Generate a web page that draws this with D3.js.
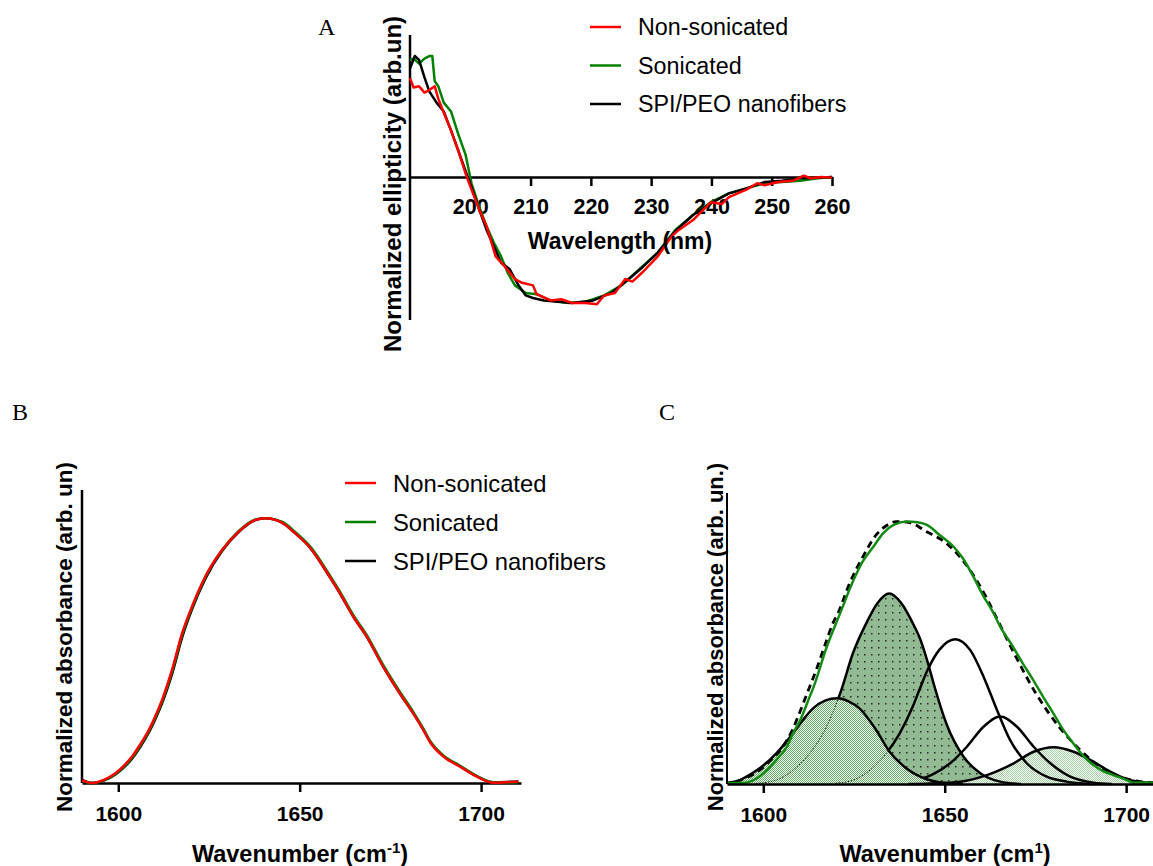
<!DOCTYPE html>
<html><head><meta charset="utf-8">
<script src="https://cdn.jsdelivr.net/npm/d3@7"></script>
<style>
body{margin:0;background:#fff}
</style>
</head><body>
<svg id="chart" width="1153" height="866"></svg>
<script>
// ---------------- DATA ----------------
const seriesNames = ["Non-sonicated", "Sonicated", "SPI/PEO nanofibers"];
const seriesColors = ["#ff0000", "#008000", "#000000"];

// Panel A: CD spectra (wavelength nm, normalized ellipticity)
const cdTicks = [200, 210, 220, 230, 240, 250, 260];
const cdNonSonicated = [[190,0.785],[190.6,0.71],[191.5,0.72],[192.4,0.67],[193.2,0.69],[194.1,0.72],[194.7,0.62],[195.6,0.51],[196.8,0.37],[198,0.21],[199.2,0.03],[200.2,-0.1],[201.5,-0.26],[202.7,-0.39],[204.2,-0.63],[205.7,-0.71],[207.4,-0.81],[208.6,-0.84],[210.4,-0.86],[211,-0.93],[213.3,-0.98],[215.1,-0.97],[216.9,-1.0],[219.2,-1.0],[221,-1.01],[222.2,-0.94],[224,-0.92],[225.7,-0.81],[226.9,-0.83],[228.7,-0.75],[231.1,-0.63],[233.4,-0.47],[234.6,-0.42],[237,-0.34],[239.9,-0.2],[241.7,-0.215],[242.9,-0.16],[245.8,-0.1],[247.6,-0.05],[248.8,-0.065],[251.1,-0.04],[253.5,-0.03],[255.3,0.01],[256.5,-0.01],[258.2,0],[260,-0.005]];
const cdSonicated = [[190,0.93],[190.6,0.94],[191.5,0.9],[192.4,0.94],[193.2,0.96],[193.7,0.96],[194.1,0.76],[194.7,0.72],[195.6,0.59],[196.8,0.52],[198,0.34],[199.2,0.18],[200.2,-0.05],[201.5,-0.24],[202.7,-0.39],[203.9,-0.52],[205.1,-0.63],[206.2,-0.76],[207.4,-0.86],[209.2,-0.92],[211,-0.93],[213.3,-0.98],[216.3,-1.0],[219.2,-0.99],[222.2,-0.94],[225.1,-0.86],[228.1,-0.73],[231.1,-0.6],[234,-0.42],[237,-0.3],[239.9,-0.2],[242.9,-0.13],[245.8,-0.09],[248.8,-0.05],[251.7,-0.04],[254.7,-0.03],[257.6,-0.01],[260,0]];
const cdNanofibers = [[190,0.86],[190.8,0.96],[191.5,0.93],[192.4,0.79],[193.2,0.68],[194.4,0.59],[195.6,0.52],[196.8,0.37],[198,0.21],[199.2,0.05],[200.2,-0.08],[201.5,-0.26],[202.7,-0.42],[203.9,-0.55],[205.1,-0.68],[206.5,-0.73],[208,-0.86],[209.2,-0.94],[210.4,-0.96],[212.2,-0.98],[214.5,-0.99],[216.9,-1.0],[220.4,-0.98],[223.4,-0.92],[226.3,-0.81],[228.7,-0.71],[231.1,-0.6],[234,-0.43],[237,-0.3],[239.9,-0.21],[242.9,-0.13],[245.8,-0.09],[248.8,-0.04],[251.7,-0.03],[254.7,-0.01],[257.6,-0.005],[260,0]];

// Panel B: FTIR amide I (wavenumber, normalized absorbance)
const irTicks = [1600, 1650, 1700];
const irNonSonicated = [[1590,0.01],[1592.8,0.0],[1596,0.012],[1599.2,0.037],[1601.5,0.065],[1603.8,0.1],[1606,0.145],[1608.4,0.2],[1610.3,0.255],[1612.1,0.315],[1614.8,0.427],[1617.6,0.566],[1620.3,0.666],[1624,0.78],[1628.6,0.88],[1633.2,0.95],[1637.8,0.994],[1640.5,1.0],[1645.1,0.984],[1648.8,0.943],[1652.8,0.89],[1654.7,0.855],[1657.4,0.798],[1661.1,0.717],[1664.8,0.628],[1668.5,0.553],[1673,0.44],[1677.6,0.339],[1681.3,0.263],[1684.1,0.2],[1685.9,0.155],[1689.6,0.1],[1694.2,0.062],[1698.8,0.024],[1703.4,0.001],[1707,0.003],[1710.3,0.005]];
const irSonicated = [[1590,0.008],[1592.8,0.0],[1596,0.01],[1599.2,0.034],[1601.5,0.061],[1603.8,0.095],[1606,0.14],[1608.4,0.195],[1610.3,0.25],[1612.1,0.31],[1614.8,0.42],[1617.6,0.56],[1620.3,0.662],[1624,0.778],[1628.6,0.88],[1633.2,0.952],[1637.8,0.996],[1640.5,1.0],[1645.1,0.987],[1648.8,0.948],[1652.8,0.895],[1654.7,0.861],[1657.4,0.804],[1661.1,0.723],[1664.8,0.634],[1668.5,0.559],[1673,0.446],[1677.6,0.345],[1681.3,0.269],[1684.1,0.205],[1685.9,0.16],[1689.6,0.104],[1694.2,0.065],[1698.8,0.026],[1703.4,0.002],[1707,0.002],[1710.3,0.003]];
const irNanofibers = [[1590,0.012],[1592.8,0.0],[1596,0.009],[1599.2,0.032],[1601.5,0.058],[1603.8,0.092],[1606,0.135],[1608.4,0.19],[1610.3,0.244],[1612.1,0.302],[1614.8,0.41],[1617.6,0.55],[1620.3,0.655],[1624,0.772],[1628.6,0.876],[1633.2,0.948],[1637.8,0.993],[1640.5,1.0],[1645.1,0.984],[1648.8,0.943],[1652.8,0.89],[1654.7,0.855],[1657.4,0.797],[1661.1,0.716],[1664.8,0.628],[1668.5,0.552],[1673,0.44],[1677.6,0.338],[1681.3,0.263],[1684.1,0.201],[1685.9,0.157],[1689.6,0.102],[1694.2,0.064],[1698.8,0.026],[1703.4,0.003],[1707,0.004],[1710.3,0.006]];

// Panel C: deconvolution of sonicated spectrum
const fitMeasured = [[1590,0.004],[1594.5,0.004],[1598,0.02],[1601,0.053],[1603.6,0.092],[1606.5,0.142],[1608.2,0.193],[1610.2,0.244],[1612.8,0.333],[1613.9,0.371],[1617.5,0.523],[1621.2,0.651],[1624.9,0.778],[1627.5,0.85],[1630.4,0.905],[1633,0.955],[1635.9,0.987],[1639.6,1.0],[1642.5,0.997],[1645.1,0.987],[1648.5,0.95],[1652.4,0.905],[1655,0.86],[1657.9,0.79],[1660.5,0.72],[1663.3,0.655],[1665.3,0.6],[1668.8,0.523],[1671.5,0.46],[1674.4,0.396],[1677,0.335],[1679.9,0.27],[1682.5,0.21],[1685.4,0.155],[1688,0.11],[1691,0.072],[1693.5,0.05],[1696.5,0.034],[1700.2,0.015],[1702,0.005],[1704.5,0.006],[1707.4,0.004]];
const fitSum = [[1592.6,0.009],[1596,0.028],[1599,0.053],[1602,0.09],[1605.4,0.142],[1608,0.205],[1610.3,0.282],[1612.5,0.36],[1614.6,0.435],[1617,0.53],[1619.2,0.613],[1620.6,0.651],[1623.8,0.765],[1627.5,0.867],[1631.1,0.949],[1634,0.985],[1636.6,1.0],[1640.3,0.996],[1644.9,0.962],[1650.4,0.918],[1654.1,0.867],[1658.7,0.778],[1661.5,0.71],[1664.1,0.638],[1669.6,0.485],[1675.1,0.346],[1681.5,0.218],[1687.3,0.13],[1692.8,0.066],[1698.3,0.028],[1703.9,0.009],[1707.4,0.005]];
const band1620 = [[1590,0.005],[1593.5,0.015],[1596,0.033],[1599,0.06],[1603.6,0.117],[1608.2,0.193],[1611,0.245],[1613.7,0.288],[1617,0.318],[1620.4,0.327],[1623.5,0.315],[1626.5,0.288],[1631.1,0.206],[1634.8,0.123],[1639.4,0.06],[1645,0.018],[1650,0.004],[1655,0]];
const band1635 = [[1598,0.002],[1603.6,0.015],[1608.2,0.053],[1612.8,0.117],[1617.4,0.218],[1621.5,0.358],[1624.7,0.498],[1628.4,0.613],[1631.5,0.69],[1634.7,0.726],[1638,0.69],[1641.2,0.613],[1643.3,0.55],[1645.5,0.455],[1647,0.38],[1650.6,0.225],[1655.2,0.104],[1659.8,0.041],[1665.3,0.009],[1671,0]];
const band1653 = [[1620,0.003],[1624.8,0.015],[1629.4,0.053],[1633.9,0.117],[1637.6,0.193],[1641.2,0.295],[1643,0.358],[1645.3,0.435],[1648.5,0.511],[1652.9,0.552],[1657,0.511],[1660.7,0.409],[1664.4,0.282],[1668,0.168],[1672.6,0.079],[1678.1,0.028],[1683.6,0.009],[1690,0]];
const band1665 = [[1638,0.005],[1641,0.012],[1646,0.032],[1651.5,0.079],[1656.1,0.142],[1660.7,0.218],[1665.3,0.257],[1669.9,0.218],[1674.5,0.142],[1679.1,0.079],[1684.6,0.028],[1691,0.005],[1696,0]];
const band1680 = [[1640,0],[1646,0.002],[1654.3,0.009],[1661.6,0.034],[1669,0.079],[1674.5,0.123],[1680,0.14],[1685.5,0.123],[1691,0.085],[1695.6,0.047],[1700.2,0.018],[1705.7,0.005],[1707.4,0.003]];

// ---------------- DRAWING ----------------
const SANS = "'Liberation Sans', Arial, sans-serif";
const SERIF = "'Liberation Serif', 'Times New Roman', serif";
const svg = d3.select("#chart");
svg.append("rect").attr("width",1153).attr("height",866).attr("fill","#fff");
const defs = svg.append("defs");

function styleAxis(g, fs){
  g.select(".domain").attr("stroke","#000").attr("stroke-width",2.5);
  g.selectAll(".tick line").attr("stroke","#000").attr("stroke-width",2.5);
  g.selectAll(".tick text").attr("fill","#000").style("font-size",fs+"px").style("font-weight","bold")
    .style("font-family",SANS);
}
function txt(){ return svg.append("text").style("font-family",SANS).attr("fill","#000"); }
function yTitle(x, y, s, fs){
  txt().attr("transform",`translate(${x},${y}) rotate(-90)`)
    .attr("text-anchor","middle").attr("dominant-baseline","central")
    .style("font-size",fs+"px").style("font-weight","bold").text(s);
}
function panelLabel(x, y, t){
  svg.append("text").attr("x",x).attr("y",y).style("font-family",SERIF)
    .style("font-size","24px").text(t);
}
function legend(x0, y0, dy, fs){
  seriesNames.forEach((n,i)=>{
    const y = y0 + i*dy;
    svg.append("line").attr("x1",x0).attr("x2",x0+31).attr("y1",y).attr("y2",y)
      .attr("stroke",seriesColors[i]).attr("stroke-width",2.5);
    txt().attr("x",x0+48).attr("y",y).attr("dominant-baseline","central")
      .style("font-size",fs+"px").text(n);
  });
}

// ----- Panel A -----
{
  const x = d3.scaleLinear().domain([190,260]).range([410,832]);
  const y = d3.scaleLinear().domain([-1.135,1.127]).range([320,35]);
  const ax = svg.append("g").attr("transform",`translate(0,${y(0)})`)
    .call(d3.axisBottom(x).tickValues(cdTicks).tickSize(9).tickSizeOuter(0).tickPadding(13));
  styleAxis(ax, 21.5);
  svg.append("line").attr("x1",x(190)).attr("x2",x(190)).attr("y1",y.range()[1]).attr("y2",y.range()[0])
    .attr("stroke","#000").attr("stroke-width",2.5);
  const line = d3.line().x(d=>x(d[0])).y(d=>y(d[1]));
  [[cdSonicated,1],[cdNanofibers,2],[cdNonSonicated,0]].forEach(([d,i])=>{
    svg.append("path").attr("d",line(d)).attr("fill","none").attr("stroke",seriesColors[i])
      .attr("stroke-width",2.5).attr("stroke-linejoin","round");
  });
  txt().attr("x",620).attr("y",249).attr("text-anchor","middle")
    .style("font-size","23px").style("font-weight","bold").text("Wavelength (nm)");
  yTitle(392, 184, "Normalized ellipticity (arb.un)", 24);
  legend(590, 27, 38.5, 23.3);
  panelLabel(318, 35, "A");
}

// ----- Panel B -----
{
  const x = d3.scaleLinear().domain([1590,1711]).range([82,521]);
  const y = d3.scaleLinear().domain([0,1.107]).range([783,490]);
  const ax = svg.append("g").attr("transform",`translate(0,${y(0)})`)
    .call(d3.axisBottom(x).tickValues(irTicks).tickFormat(d3.format("d")).tickSize(9).tickSizeOuter(0).tickPadding(14));
  styleAxis(ax, 21);
  svg.append("line").attr("x1",x(1590)).attr("x2",x(1590)).attr("y1",490).attr("y2",783)
    .attr("stroke","#000").attr("stroke-width",2.5);
  const line = d3.line().x(d=>x(d[0])).y(d=>y(d[1])).curve(d3.curveMonotoneX);
  [[irNanofibers,2],[irSonicated,1],[irNonSonicated,0]].forEach(([d,i])=>{
    svg.append("path").attr("d",line(d)).attr("fill","none").attr("stroke",seriesColors[i])
      .attr("stroke-width",2.5);
  });
  const t = txt().attr("x",300).attr("y",862).attr("text-anchor","middle")
    .style("font-size","23.5px").style("font-weight","bold");
  t.append("tspan").text("Wavenumber (cm");
  t.append("tspan").attr("dy",-9).style("font-size","15px").text("-1");
  t.append("tspan").attr("dy",9).text(")");
  yTitle(64, 637, "Normalized absorbance (arb. un)", 22.5);
  legend(345, 483, 39, 23.8);
  panelLabel(12, 420, "B");
}

// ----- Panel C -----
{
  const x = d3.scaleLinear().domain([1590,1707.4]).range([727,1153]);
  const y = d3.scaleLinear().domain([0,1.105]).range([784,494]);

  const chk1 = defs.append("pattern").attr("id","chk1").attr("width",2).attr("height",2).attr("patternUnits","userSpaceOnUse");
  chk1.append("rect").attr("width",2).attr("height",2).attr("fill","#ffffff");
  chk1.append("rect").attr("width",1).attr("height",1).attr("fill","#62aa62");
  chk1.append("rect").attr("x",1).attr("y",1).attr("width",1).attr("height",1).attr("fill","#62aa62");
  const chk5 = defs.append("pattern").attr("id","chk5").attr("width",2).attr("height",2).attr("patternUnits","userSpaceOnUse");
  chk5.append("rect").attr("width",2).attr("height",2).attr("fill","#ffffff");
  chk5.append("rect").attr("width",1).attr("height",1).attr("fill","#a2cca2");
  chk5.append("rect").attr("x",1).attr("y",1).attr("width",1).attr("height",1).attr("fill","#a2cca2");
  const dots = defs.append("pattern").attr("id","dots2").attr("width",7).attr("height",7).attr("patternUnits","userSpaceOnUse");
  dots.append("rect").attr("width",7).attr("height",7).attr("fill","#93bb93");
  dots.append("rect").attr("x",3).attr("y",3).attr("width",1.5).attr("height",1.5).attr("fill","#2a2a2a");

  const area = d3.area().x(d=>x(d[0])).y0(y(0)).y1(d=>y(d[1])).curve(d3.curveMonotoneX);
  const line = d3.line().x(d=>x(d[0])).y(d=>y(d[1])).curve(d3.curveMonotoneX);

  const mask = defs.append("mask").attr("id","out1").attr("maskUnits","userSpaceOnUse")
    .attr("x",0).attr("y",0).attr("width",1153).attr("height",866);
  mask.append("rect").attr("width",1153).attr("height",866).attr("fill","#fff");
  mask.append("path").attr("d",area(band1620)).attr("fill","#000");

  svg.append("path").attr("d",area(band1635)).attr("fill","url(#dots2)");
  svg.append("path").attr("d",area(band1620)).attr("fill","url(#chk1)");
  svg.append("path").attr("d",area(band1680)).attr("fill","url(#chk5)");

  [band1635, band1653].forEach(b=>{
    svg.append("path").attr("d",line(b)).attr("fill","none").attr("stroke","#1a1a1a")
      .attr("stroke-width",1).attr("stroke-dasharray","1.5,1.5");
  });
  [band1635, band1653, band1665].forEach(b=>{
    svg.append("path").attr("d",line(b)).attr("fill","none").attr("stroke","#000")
      .attr("stroke-width",2.5).attr("mask","url(#out1)");
  });
  [band1620, band1680].forEach(b=>{
    svg.append("path").attr("d",line(b)).attr("fill","none").attr("stroke","#000").attr("stroke-width",2.5);
  });

  svg.append("path").attr("d",line(fitSum)).attr("fill","none").attr("stroke","#000")
    .attr("stroke-width",2.8).attr("stroke-dasharray","7,5");
  svg.append("path").attr("d",line(fitMeasured)).attr("fill","none").attr("stroke","#138a13")
    .attr("stroke-width",2.5);

  const ax = svg.append("g").attr("transform",`translate(0,${y(0)})`)
    .call(d3.axisBottom(x).tickValues(irTicks).tickFormat(d3.format("d")).tickSize(9).tickSizeOuter(0).tickPadding(14));
  styleAxis(ax, 21);
  svg.append("line").attr("x1",x(1590)).attr("x2",x(1590)).attr("y1",493).attr("y2",784)
    .attr("stroke","#000").attr("stroke-width",2);
  const t = txt().attr("x",945).attr("y",862).attr("text-anchor","middle")
    .style("font-size","23.5px").style("font-weight","bold");
  t.append("tspan").text("Wavenumber (cm");
  t.append("tspan").attr("dy",-9).style("font-size","15px").text("1");
  t.append("tspan").attr("dy",9).text(")");
  yTitle(715, 637, "Normalized absorbance (arb. un.)", 22);
  panelLabel(659, 420, "C");
}
</script>
</body></html>
